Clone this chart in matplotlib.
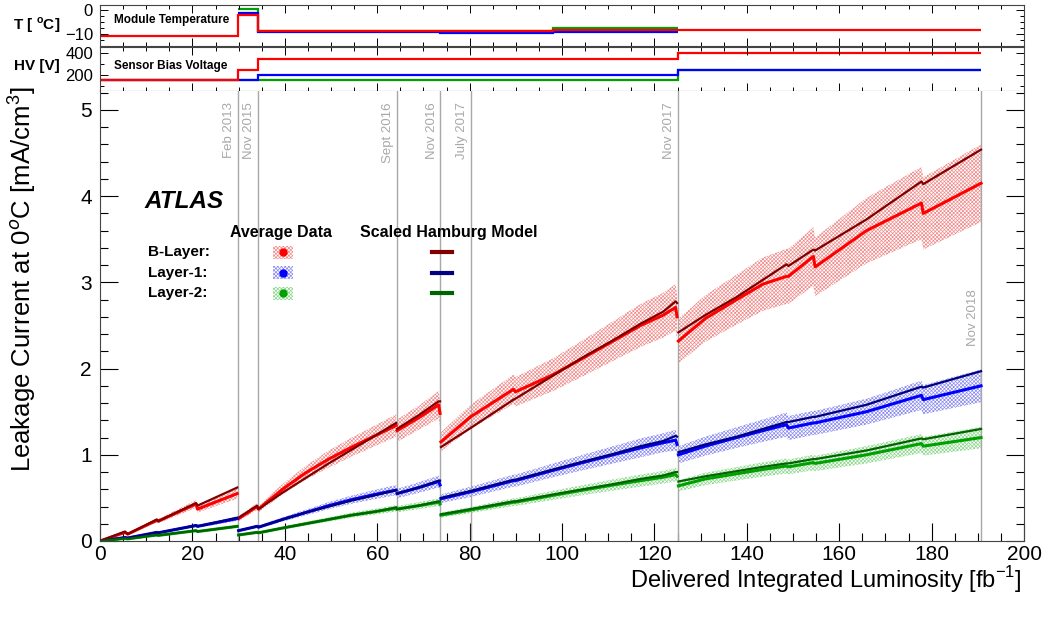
import numpy as np
import matplotlib
matplotlib.use('Agg')
import matplotlib.pyplot as plt
from matplotlib.patches import Rectangle
from matplotlib.ticker import MultipleLocator

plt.rcParams['font.family'] = ['Liberation Sans', 'DejaVu Sans']
plt.rcParams['mathtext.fontset'] = 'custom'
plt.rcParams['mathtext.rm'] = 'Liberation Sans'
plt.rcParams['mathtext.bf'] = 'Liberation Sans:bold'
plt.rcParams['hatch.linewidth'] = 0.5

# ---- data ----
# segments of the leakage current history (integrated luminosity, fb^-1)
seg_x = [
    [0, 5.4, 6.0, 12.3, 12.6, 20.8, 21.1, 29.7],
    [30.0, 34.0, 34.3, 39.5, 44.5, 49.5, 54.5, 59.5, 64.1],
    [64.3, 69.0, 73.3, 73.6],
    [73.8, 80.2, 89.5, 89.9, 98.1, 104.5, 111.1, 117.0, 121.9, 124.6, 124.9],
    [125.2, 131.0, 137.8, 143.5, 148.6, 149.0, 154.4, 154.8, 165.9, 177.8, 178.2, 190.7],
]

# B-Layer
bl_data = [
    [0, 0.10, 0.08, 0.24, 0.23, 0.43, 0.37, 0.55],
    [0.26, 0.40, 0.37, 0.60, 0.79, 0.95, 1.09, 1.22, 1.34],
    [1.28, 1.43, 1.58, 1.48],
    [1.15, 1.44, 1.76, 1.73, 1.93, 2.12, 2.32, 2.50, 2.62, 2.71, 2.60],
    [2.32, 2.58, 2.80, 2.98, 3.07, 3.07, 3.30, 3.18, 3.60, 3.92, 3.80, 4.15],
]
bl_err = [
    [0, 0.01, 0.01, 0.025, 0.025, 0.045, 0.04, 0.06],
    [0.03, 0.04, 0.04, 0.06, 0.08, 0.10, 0.11, 0.12, 0.13],
    [0.13, 0.14, 0.16, 0.15],
    [0.11, 0.14, 0.17, 0.17, 0.19, 0.21, 0.23, 0.25, 0.26, 0.27, 0.26],
    [0.26, 0.27, 0.29, 0.31, 0.32, 0.32, 0.34, 0.34, 0.38, 0.42, 0.42, 0.45],
]
bl_model = [
    [0, 0.11, 0.08, 0.25, 0.23, 0.44, 0.41, 0.62],
    [0.27, 0.41, 0.37, 0.56, 0.73, 0.90, 1.06, 1.22, 1.37],
    [1.30, 1.46, 1.62, 1.62],
    [1.09, 1.31, 1.64, 1.65, 1.92, 2.13, 2.33, 2.52, 2.66, 2.78, 2.76],
    [2.42, 2.62, 2.83, 3.03, 3.21, 3.19, 3.38, 3.37, 3.73, 4.17, 4.14, 4.54],
]

# Layer-1
l1_data = [
    [0, 0.04, 0.035, 0.10, 0.095, 0.18, 0.17, 0.26],
    [0.12, 0.17, 0.16, 0.25, 0.33, 0.41, 0.48, 0.54, 0.59],
    [0.55, 0.62, 0.69, 0.65],
    [0.49, 0.57, 0.70, 0.70, 0.82, 0.91, 1.00, 1.08, 1.14, 1.17, 1.12],
    [1.00, 1.10, 1.20, 1.28, 1.35, 1.31, 1.37, 1.37, 1.50, 1.69, 1.64, 1.80],
]
l1_err = [
    [0, 0.004, 0.004, 0.01, 0.01, 0.018, 0.017, 0.026],
    [0.012, 0.017, 0.016, 0.025, 0.033, 0.041, 0.048, 0.054, 0.059],
    [0.055, 0.062, 0.069, 0.065],
    [0.05, 0.06, 0.07, 0.07, 0.08, 0.09, 0.10, 0.11, 0.11, 0.12, 0.11],
    [0.10, 0.11, 0.12, 0.13, 0.14, 0.14, 0.14, 0.14, 0.15, 0.17, 0.17, 0.19],
]
l1_model = [
    [0, 0.04, 0.035, 0.10, 0.095, 0.18, 0.17, 0.27],
    [0.12, 0.17, 0.16, 0.25, 0.33, 0.40, 0.47, 0.53, 0.59],
    [0.55, 0.62, 0.70, 0.70],
    [0.50, 0.58, 0.71, 0.71, 0.83, 0.92, 1.01, 1.10, 1.16, 1.22, 1.21],
    [1.03, 1.12, 1.21, 1.30, 1.38, 1.38, 1.44, 1.44, 1.58, 1.79, 1.78, 1.97],
]

# Layer-2
l2_data = [
    [0, 0.03, 0.025, 0.07, 0.065, 0.12, 0.11, 0.17],
    [0.07, 0.10, 0.095, 0.15, 0.20, 0.25, 0.30, 0.34, 0.38],
    [0.37, 0.41, 0.45, 0.43],
    [0.30, 0.36, 0.45, 0.45, 0.53, 0.59, 0.65, 0.70, 0.74, 0.77, 0.75],
    [0.64, 0.72, 0.78, 0.83, 0.87, 0.86, 0.91, 0.90, 1.00, 1.13, 1.10, 1.20],
]
l2_err = [
    [0, 0.003, 0.003, 0.007, 0.007, 0.012, 0.011, 0.017],
    [0.007, 0.01, 0.01, 0.015, 0.02, 0.025, 0.03, 0.034, 0.038],
    [0.037, 0.041, 0.045, 0.043],
    [0.03, 0.036, 0.045, 0.045, 0.053, 0.059, 0.065, 0.07, 0.074, 0.077, 0.075],
    [0.065, 0.072, 0.078, 0.083, 0.087, 0.086, 0.091, 0.09, 0.10, 0.11, 0.11, 0.125],
]
l2_model = [
    [0, 0.03, 0.025, 0.07, 0.065, 0.12, 0.11, 0.17],
    [0.07, 0.10, 0.095, 0.15, 0.20, 0.25, 0.30, 0.34, 0.39],
    [0.37, 0.41, 0.46, 0.46],
    [0.31, 0.37, 0.46, 0.46, 0.54, 0.60, 0.66, 0.72, 0.76, 0.80, 0.80],
    [0.69, 0.75, 0.81, 0.86, 0.90, 0.90, 0.95, 0.95, 1.05, 1.19, 1.18, 1.30],
]

# period markers
period_x = [29.9, 34.2, 64.2, 73.7, 80.2, 125.0, 190.8]
period_labels = ['Feb 2013', 'Nov 2015', 'Sept 2016', 'Nov 2016', 'July 2017', 'Nov 2017', 'Nov 2018']

# module temperature [C], step-wise per period
temp_edges = [0, 29.9, 34.2, 73.6, 98.0, 125.0, 190.8]
temp_bl = [-10.7, -2.2, -8.6, -8.6, -8.4, -8.3]
temp_l1 = [np.nan, -1.2, -9.0, -9.4, -8.9, np.nan]
temp_l2 = [np.nan, 0.6, -8.7, -8.8, -7.4, np.nan]

# sensor bias voltage [V]
hv_edges = [0, 29.9, 34.2, 125.0, 190.8]
hv_bl = [150, 250, 350, 400]
hv_l1 = [150, 150, 200, 250]
hv_l2 = [150, 150, 150, 250]

# ---- layout in pixels ----
W, H = 1048, 621


def box(l, t, r, b):
    return [l / W, 1 - b / H, (r - l) / W, (b - t) / H]


fig = plt.figure(figsize=(W / 100, H / 100), dpi=100)
ax_t = fig.add_axes(box(100, 5, 1024, 46))
ax_hv = fig.add_axes(box(100, 47, 1024, 91))
ax = fig.add_axes(box(100, 91, 1024, 541))

red, blue, green = '#ff0000', '#0000ff', '#00a000'
dred, dblue, dgreen = '#800000', '#000080', '#006400'
hred, hblue, hgreen = '#f08c8c', '#8c8cf0', '#8cd88c'
gray = '#a8a8a8'
HATCH = 'x' * 9

layers = [
    (bl_data, bl_err, bl_model, red, dred, hred),
    (l1_data, l1_err, l1_model, blue, dblue, hblue),
    (l2_data, l2_err, l2_model, green, dgreen, hgreen),
]

for data, err, model, c, dc, hc in layers:
    for i, xs in enumerate(seg_x):
        d = np.array(data[i])
        e = np.array(err[i])
        ax.fill_between(xs, d - e, d + e, facecolor='none', edgecolor=hc,
                        hatch=HATCH, linewidth=0, zorder=1)
for data, err, model, c, dc, hc in layers:
    for i, xs in enumerate(seg_x):
        ax.plot(xs, data[i], color=c, lw=2.2, zorder=3)
        ax.plot(xs, model[i], color=dc, lw=1.6, zorder=4)

for xv, lab in zip(period_x, period_labels):
    ax.axvline(xv, color=gray, lw=1.0, zorder=2)
    ytop = 2.92 if lab == 'Nov 2018' else 5.09
    ax.text(xv - 0.6, ytop, lab, rotation=90, ha='right', va='top',
            color=gray, fontsize=9.5)

ax.set_xlim(0, 200)
ax.set_ylim(0, 5.22)
ax.xaxis.set_major_locator(MultipleLocator(20))
ax.xaxis.set_minor_locator(MultipleLocator(5))
ax.yaxis.set_major_locator(MultipleLocator(1))
ax.yaxis.set_minor_locator(MultipleLocator(0.2))
ax.tick_params(which='both', direction='in', right=True, top=False,
               labelsize=15)
ax.tick_params(axis='x', pad=3)
ax.tick_params(axis='y', pad=6)
ax.tick_params(which='major', length=13, width=0.8)
ax.tick_params(which='minor', length=6, width=0.8)
ax.spines['top'].set_visible(False)
for s in ['left', 'bottom', 'right']:
    ax.spines[s].set_color('#444444')
ax.set_ylabel('Leakage Current at 0$^{o}$C [mA/cm$^{3}$]', fontsize=18.5)
ax.yaxis.set_label_coords((38 - 100) / 924, (541 - 279) / 450)
fig.text(1022 / W, 1 - 580 / H, 'Delivered Integrated Luminosity [fb$^{-1}$]',
         ha='right', va='center', fontsize=17)

# temperature panel
for vals, c in [(temp_l2, green), (temp_l1, blue), (temp_bl, red)]:
    ax_t.stairs(vals, temp_edges, color=c, lw=1.6, baseline=None)
ax_t.set_ylim(-14.8, 2.1)
ax_t.set_yticks([0, -10])
ax_t.set_yticklabels(['0', '\u221210'])
ax_t.yaxis.set_minor_locator(MultipleLocator(2.5))

# HV panel
for vals, c in [(hv_l2, green), (hv_l1, blue), (hv_bl, red)]:
    ax_hv.stairs(vals, hv_edges, color=c, lw=1.6, baseline=None)
ax_hv.set_ylim(52, 458)
ax_hv.set_yticks([200, 400])
ax_hv.yaxis.set_minor_locator(MultipleLocator(100))

for a in (ax_t, ax_hv):
    a.set_xlim(0, 200)
    a.xaxis.set_major_locator(MultipleLocator(20))
    a.xaxis.set_minor_locator(MultipleLocator(5))
    a.tick_params(which='both', direction='in', top=True, right=True,
                  labelbottom=False, labelsize=12, pad=5)
    a.tick_params(which='major', length=6, width=0.7)
    a.tick_params(which='minor', length=3, width=0.7)
    for s in a.spines.values():
        s.set_color('#444444')
        s.set_linewidth(0.8)

fig.text(37 / W, 1 - 25 / H, 'T [ $^{\\mathbf{o}}$C]', ha='center', va='center',
         fontsize=11, fontweight='bold')
fig.text(37 / W, 1 - 66 / H, 'HV [V]', ha='center', va='center',
         fontsize=11, fontweight='bold')
fig.text(114 / W, 1 - 20 / H, 'Module Temperature', ha='left', va='center',
         fontsize=8.5, fontweight='bold')
fig.text(114 / W, 1 - 66 / H, 'Sensor Bias Voltage', ha='left', va='center',
         fontsize=8.5, fontweight='bold')

# legend block drawn in pixel coordinates
ov = fig.add_axes([0, 0, 1, 1], facecolor='none')
ov.set_xlim(0, W)
ov.set_ylim(H, 0)
ov.axis('off')
ov.text(145, 201, 'ATLAS', fontsize=17.5, fontweight='bold', style='italic',
        ha='left', va='center')
ov.text(230, 232, 'Average Data', fontsize=11.5, fontweight='bold', ha='left', va='center')
ov.text(360, 232, 'Scaled Hamburg Model', fontsize=11.5, fontweight='bold',
        ha='left', va='center')
for k, (lab, c, dc, hc) in enumerate([('B-Layer:', red, dred, hred),
                                      ('Layer-1:', blue, dblue, hblue),
                                      ('Layer-2:', green, dgreen, hgreen)]):
    yy = 252 + k * 20.7
    ov.text(148, yy, lab, fontsize=11, fontweight='bold', ha='left', va='center')
    ov.add_patch(Rectangle((273, yy - 6.5), 20, 13, facecolor='none', edgecolor=hc,
                           hatch=HATCH, linewidth=0))
    ov.plot([283], [yy], 'o', color=c, ms=5)
    ov.plot([432, 452], [yy, yy], color=dc, lw=3)

fig.savefig('out.png', dpi=100)
